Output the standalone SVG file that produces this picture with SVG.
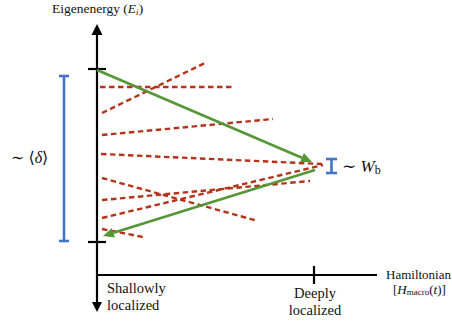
<svg xmlns="http://www.w3.org/2000/svg" width="452" height="324" viewBox="0 0 452 324">
<style>
.ax{stroke:#000;stroke-width:2.2;fill:none}
.lvl{stroke:#b5331b;stroke-width:2.4;stroke-dasharray:5.5 3.5;fill:none}
.gr{stroke:#559639;stroke-width:2.6;fill:none}
.bl{stroke:#4472c4;stroke-width:2.6;fill:none}
.t{font-family:'Liberation Serif','DejaVu Serif','Times New Roman',serif;fill:#111}
</style>
<defs>
<marker id="ga" markerUnits="userSpaceOnUse" markerWidth="12" markerHeight="12" refX="0" refY="5" orient="auto">
<path d="M0,0 L11,5 L0,10 z" fill="#559639"/>
</marker>
</defs>
<rect width="452" height="324" fill="#fff"/>
<g id="axes">
<line class="ax" x1="97" y1="33" x2="97" y2="303"/>
<polygon points="97,24 91.5,35 102.5,35" fill="#000"/>
<polygon points="97,312 92,302 102,302" fill="#000"/>
<line class="ax" x1="96" y1="275" x2="377" y2="275"/>
<line class="ax" x1="314" y1="266" x2="314" y2="284"/>
<line class="ax" x1="88" y1="69" x2="106" y2="69"/>
<line class="ax" x1="88" y1="242" x2="106" y2="242"/>
</g>
<g id="levels">
<line class="lvl" x1="100" y1="87" x2="235" y2="87"/>
<line class="lvl" x1="102" y1="113" x2="207" y2="62"/>
<line class="lvl" x1="102" y1="135" x2="273" y2="119"/>
<line class="lvl" x1="101" y1="154" x2="322" y2="164"/>
<line class="lvl" x1="102" y1="178" x2="258" y2="221"/>
<line class="lvl" x1="102" y1="200" x2="310" y2="181"/>
<line class="lvl" x1="102" y1="218" x2="323" y2="165"/>
<line class="lvl" x1="102" y1="229" x2="143" y2="237"/>
</g>
<g id="connectors">
<line class="gr" x1="97" y1="70" x2="301.9" y2="157.7" marker-end="url(#ga)"/>
<line class="gr" x1="315" y1="170" x2="113.5" y2="232.7" marker-end="url(#ga)"/>
</g>
<g id="delta-bar">
<line class="bl" x1="64" y1="76" x2="64" y2="241"/>
<line class="bl" x1="59" y1="76" x2="69" y2="76"/>
<line class="bl" x1="59" y1="241" x2="69" y2="241"/>
<text class="t" x="11" y="163" font-size="16">∼ ⟨<tspan font-style="italic">δ</tspan>⟩</text>
</g>
<g id="wb-bar">
<line class="bl" x1="331.5" y1="159" x2="331.5" y2="173"/>
<line class="bl" x1="326" y1="159" x2="337" y2="159"/>
<line class="bl" x1="326" y1="173" x2="337" y2="173"/>
<text class="t" x="342" y="172" font-size="17">∼ <tspan font-style="italic">W</tspan><tspan font-size="12" dy="2">b</tspan></text>
</g>
<g id="labels">
<text class="t" x="52" y="13" font-size="13.5">Eigenenergy (<tspan font-style="italic">E</tspan><tspan font-style="italic" font-size="9" dy="2">i</tspan><tspan dy="-2">)</tspan></text>
<text class="t" x="107" y="293" font-size="14.5">Shallowly</text>
<text class="t" x="107" y="310" font-size="14.5">localized</text>
<text class="t" x="315" y="298" font-size="14.5" text-anchor="middle">Deeply</text>
<text class="t" x="315" y="315" font-size="14.5" text-anchor="middle">localized</text>
<text class="t" x="386" y="279" font-size="13">Hamiltonian</text>
<text class="t" x="393" y="294" font-size="13">[<tspan font-style="italic">H</tspan><tspan font-size="9" dy="1">macro</tspan><tspan dy="-1">(</tspan><tspan font-style="italic">t</tspan>)]</text>
</g>
</svg>
